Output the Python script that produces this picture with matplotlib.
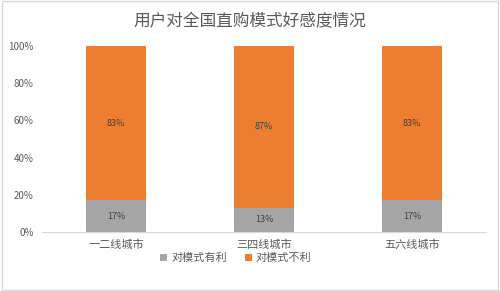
import matplotlib
matplotlib.use("Agg")
import matplotlib.pyplot as plt
import numpy as np

plt.rcParams['font.family'] = ['Noto Sans CJK SC', 'DejaVu Sans']

categories = ["一二线城市", "三四线城市", "五六线城市"]
favorable = [17, 13, 17]
unfavorable = [83, 87, 83]
series_names = ["对模式有利", "对模式不利"]
title = "用户对全国直购模式好感度情况"

GRAY = "#A5A5A5"
ORANGE = "#ED7D31"
TXT = "#595959"

fig = plt.figure(figsize=(5.0, 2.91), dpi=100)
fig.patch.set_facecolor("white")
# light frame round the chart
fig.add_artist(plt.Rectangle((0.004, 0.004), 0.992, 0.992, transform=fig.transFigure,
                             fill=False, edgecolor="#D9D9D9", linewidth=1))

ax = fig.add_axes([0.084, 0.203, 0.888, 0.639])
x = np.arange(len(categories))
fav = np.array(favorable) / 100
unf = np.array(unfavorable) / 100

b1 = ax.bar(x, fav, width=0.4, color=GRAY, label=series_names[0])
b2 = ax.bar(x, unf, width=0.4, bottom=fav, color=ORANGE, label=series_names[1])

for xi, f, u in zip(x, fav, unf):
    ax.text(xi, f / 2, f"{int(round(f * 100))}%", ha="center", va="center",
            fontsize=6.5, color="#404040")
    ax.text(xi, f + u / 2, f"{int(round(u * 100))}%", ha="center", va="center",
            fontsize=6.5, color="#404040")

ax.set_xlim(-0.5, len(categories) - 0.5)
ax.set_ylim(0, 1.0)
ax.set_yticks(np.arange(0, 1.01, 0.2))
ax.set_yticklabels([f"{int(v * 100)}%" for v in np.arange(0, 1.01, 0.2)])
ax.set_xticks(x)
ax.set_xticklabels(categories)
ax.tick_params(axis="both", length=0, labelsize=7, colors=TXT)
ax.tick_params(axis="x", pad=5, labelsize=8)
ax.tick_params(axis="y", pad=6)
for side in ["top", "right", "left"]:
    ax.spines[side].set_visible(False)
ax.spines["bottom"].set_color("#D9D9D9")

fig.text(0.5, 0.925, title, ha="center", va="center", fontsize=12, color=TXT)

fig.legend(handles=[b1, b2], loc="center", bbox_to_anchor=(0.472, 0.113), ncol=2,
           frameon=False, fontsize=8, handlelength=0.6, handleheight=0.6,
           columnspacing=1.6, handletextpad=0.4, labelcolor=TXT)

fig.savefig("out.png", dpi=100)
